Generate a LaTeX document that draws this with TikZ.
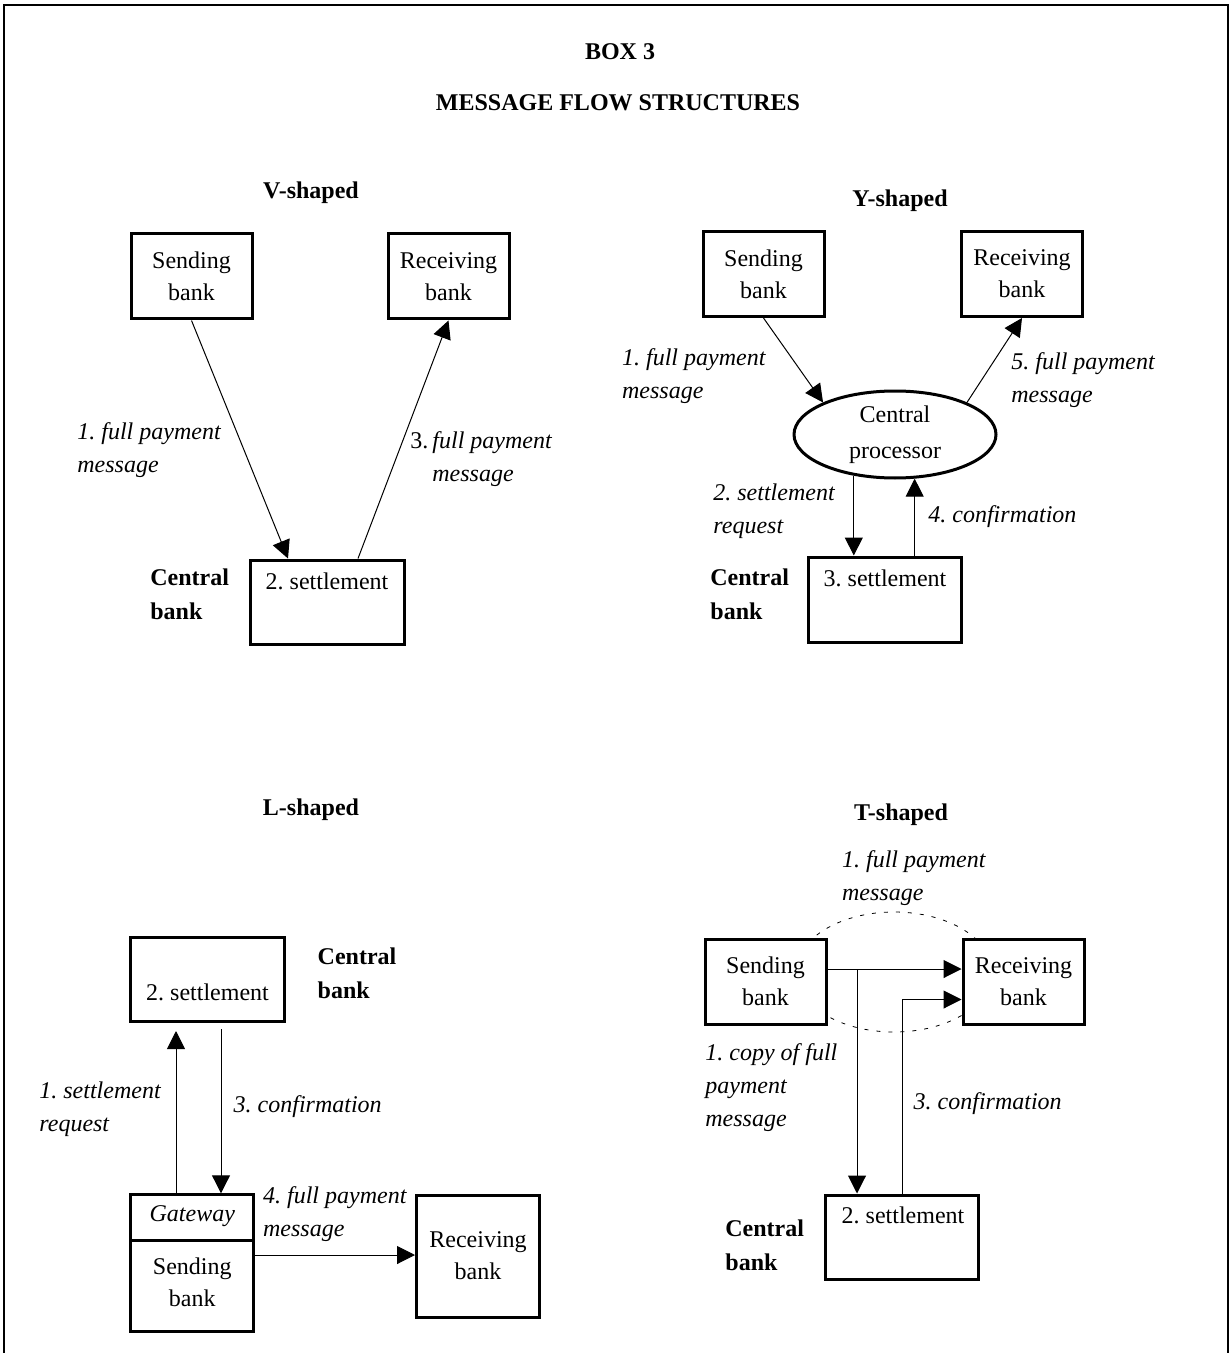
\documentclass[tikz,border=0pt]{standalone}
\usepackage{fontspec}
\setmainfont{Liberation Serif}
\usetikzlibrary{arrows.meta,shapes.geometric}
\frenchspacing

\tikzset{
  txt/.style={font=\fontsize{12}{16}\selectfont,inner sep=0pt,align=center},
  bankbox/.style={txt,draw,line width=1.5pt,fill=white,minimum width=60.5pt,minimum height=42.5pt},
  settlebox/.style={draw,line width=1.5pt,fill=white,minimum width=77pt,minimum height=42pt,inner sep=0pt},
  procnode/.style={txt,ellipse,draw,line width=1.5pt,fill=white,minimum width=101pt,minimum height=43.5pt,
    font=\fontsize{12}{18}\selectfont},
  msglabel/.style={txt,font=\fontsize{12}{16.5}\selectfont\itshape,anchor=west,align=left},
  cblabel/.style={txt,font=\fontsize{12}{17}\selectfont\bfseries,anchor=west,align=left},
  heading/.style={txt,font=\fontsize{12}{17}\selectfont\bfseries},
  arr/.style={line width=0.5pt,-{Triangle[length=9pt,width=9pt]}},
}

\begin{document}
\begin{tikzpicture}[x=0.5pt,y=-0.5pt]
\useasboundingbox (0,0) rectangle (1231,1353);
% frame
\draw[line width=1.3pt] (4,1353) -- (4,5) -- (1228,5) -- (1228,1353);
\node[heading] (boxno) at (620,52) {BOX 3};
\node[heading] (boxtitle) at (618,103) {MESSAGE FLOW STRUCTURES};

% V-shaped
\node[heading] (vtitle) at (311,193) {V-shaped};
\node[bankbox] (vs) at (191.5,276.5) {Sending\\bank};
\node[bankbox] (vr) at (448.5,276.5) {Receiving\\bank};
\node[settlebox] (vc) at (327,602) {};
\node[txt] (vct) at (327,581) {2. settlement};
\node[cblabel] (vcb) at (150,594) {Central\\bank};
\draw[arr] (vs.south) -- ([xshift=-19.5pt]vc.north);
\draw[arr] ([xshift=15.5pt]vc.north) -- (vr.south);
\node[msglabel] (v1) at (77,450.5) {1. full payment\\message};
\node[msglabel] (v3) at (410,459) {{\upshape 3.}\,full payment\\\hspace*{11pt}message};

% Y-shaped
\node[heading] (ytitle) at (900,201) {Y-shaped};
\node[bankbox] (ys) at (763.5,274) {Sending\\bank};
\node[bankbox] (yr) at (1022,274) {Receiving\\bank};
\node[procnode] (yp) at (895,434.5) {Central\\processor};
\node[settlebox,minimum width=76.5pt,minimum height=42.5pt] (yc) at (884.5,599.5) {};
\node[txt] (yct) at (885,578) {3. settlement};
\node[cblabel] (ycb) at (710,594.5) {Central\\bank};
\draw[arr] (ys.south) -- (yp.156);
\draw[arr] (yp.24) -- (yr.south);
\draw[arr] (yp.225) -- (yp.225 |- yc.north);
\draw[arr] (yp.294 |- yc.north) -- (yp.294);
\node[msglabel] (y1) at (621.7,376.5) {1. full payment\\message};
\node[msglabel] (y5) at (1011,380) {5. full payment\\message};
\node[msglabel] (y2) at (713,511) {2. settlement\\request};
\node[msglabel] (y4) at (928,516.7) {4. confirmation};

% L-shaped
\node[heading] (ltitle) at (311,810) {L-shaped};
\node[settlebox] (ls) at (207.5,979.5) {};
\node[txt] (lst) at (207.5,992) {2. settlement};
\node[cblabel] (lcb) at (317.3,973.5) {Central\\bank};
\node[bankbox,minimum width=61.5pt,minimum height=68.5pt] (lg) at (192.3,1263.3) {};
\coordinate (ldiv) at (0,1240);
\draw[line width=1.5pt] (lg.west |- ldiv) -- (lg.east |- ldiv);
\node[txt,font=\fontsize{12}{16}\selectfont\itshape] (lgt) at (192.3,1216) {Gateway};
\node[txt] (lgs) at (192.3,1282.5) {Sending\\bank};
\node[bankbox,minimum width=61.5pt,minimum height=61pt] (lr) at (478,1256) {Receiving\\bank};
\coordinate (l1) at (176,1195);
\coordinate (l3) at (221,1195);
\coordinate (l4) at (254,1255);
\draw[arr,shorten >=4pt] (l1 |- lg.north) -- (l1 |- ls.south);
\draw[arr,shorten <=3pt] (l3 |- ls.south) -- (l3 |- lg.north);
\draw[arr] (l4 -| lg.east) -- (l4 -| lr.west);
\node[msglabel] (l1t) at (39,1108.75) {1. settlement\\request};
\node[msglabel] (l3t) at (233.3,1106.7) {3. confirmation};
\node[msglabel] (l4t) at (262.7,1214.3) {4. full payment\\message};

% T-shaped
\node[heading] (ttitle) at (901,815) {T-shaped};
\node[ellipse,draw,line width=0.4pt,dash pattern=on 2pt off 4pt,minimum width=98pt,minimum height=60pt] (tm) at (894,972) {};
\node[bankbox] (ts) at (765.5,981.5) {Sending\\bank};
\node[bankbox] (tr) at (1023.5,981.5) {Receiving\\bank};
\node[settlebox,minimum width=76.5pt] (tc) at (901.5,1237) {};
\node[txt] (tct) at (903,1215) {2. settlement};
\node[cblabel] (tcb) at (725,1245) {Central\\bank};
\coordinate (tj) at (857,969);
\coordinate (tk) at (902.5,999.5);
\draw[arr] (ts.east |- tj) -- (tj -| tr.west);
\draw[arr] (tj) -- (tj |- tc.north);
\draw[arr] (tk |- tc.north) -- (tk) -- (tk -| tr.west);
\node[msglabel] (t1a) at (841.7,878.3) {1. full payment\\message};
\node[msglabel] (t1b) at (705,1087.5) {1. copy of full\\payment\\message};
\node[msglabel] (t3) at (913.3,1103.3) {3. confirmation};
\end{tikzpicture}
\end{document}
